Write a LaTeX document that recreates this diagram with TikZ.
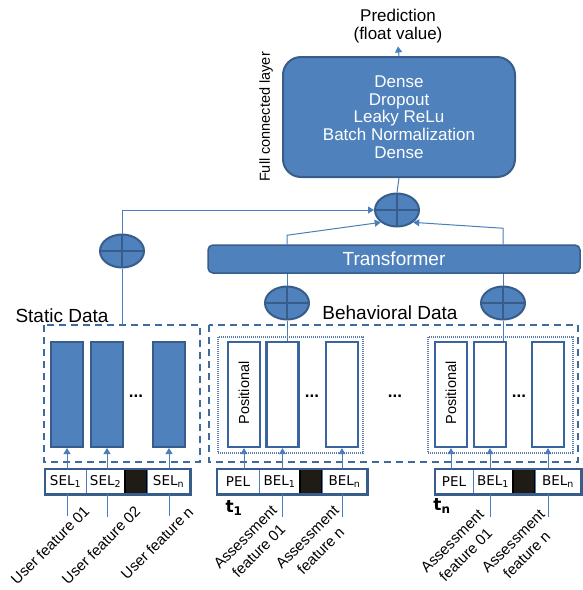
\documentclass[tikz,border=0pt]{standalone}
\usepackage{fontspec}
\setmainfont{Liberation Sans}
\newfontfamily\cellfont{DejaVu Sans}
\usetikzlibrary{arrows.meta,shapes.geometric}

\begin{document}
\begin{tikzpicture}[x=1pt,y=-1pt,
  % stili
  flowLine/.style={draw=lineBlue, line width=1pt},
  flowArrow/.style={flowLine, -{Triangle[length=6pt,width=7pt]}},
  plusNode/.style={ellipse, draw=barBorder, fill=boxBlue, line width=2pt,
    minimum width=44pt, minimum height=33pt, inner sep=0pt,
    path picture={\draw[barBorder, line width=2pt]
      (path picture bounding box.north) -- (path picture bounding box.south)
      (path picture bounding box.west) -- (path picture bounding box.east);}},
  blueBar/.style={rectangle, draw=barBorder, fill=boxBlue, line width=2pt,
    minimum width=32pt, minimum height=105pt, inner sep=0pt},
  whiteBar/.style={blueBar, fill=white, draw=barEdge, line width=2.4pt},
  cellBox/.style={rectangle, draw=lineBlue, line width=0.8pt, inner sep=0pt,
    minimum height=25pt, font=\cellfont\fontsize{13.5}{14}\selectfont},
  blackCell/.style={cellBox, fill=blackFill, draw=black, line width=1.5pt},
  tableEdge/.style={draw=barBorder, line width=2.2pt},
  dashBox/.style={draw=dashBlue, line width=1.6pt, dash pattern=on 7pt off 5pt},
  dotBox/.style={draw=dotBlue, line width=1.2pt, dash pattern=on 1pt off 1pt},
  featLabel/.style={rotate=45, align=center, font=\fontsize{15}{19}\selectfont},
  dotsText/.style={font=\bfseries\fontsize{17}{17}\selectfont},
  timeLabel/.style={font=\cellfont\bfseries\fontsize{17}{17}\selectfont}]

% Colori
\definecolor{boxBlue}{HTML}{4F81BD}
\definecolor{barBorder}{HTML}{385D8A}
\definecolor{barEdge}{HTML}{3A64A0}
\definecolor{lineBlue}{HTML}{4A7EBB}
\definecolor{dashBlue}{HTML}{3F6A9E}
\definecolor{dotBlue}{HTML}{5A7AAA}
\definecolor{blackFill}{HTML}{201B14}

\useasboundingbox (0,0) rectangle (582,590);

% Livello completamente connesso
\node[rectangle, rounded corners=18pt, draw=barBorder, fill=boxBlue, line width=2pt,
  minimum width=232pt, minimum height=120pt, text=white, align=center,
  font=\fontsize{17}{17.7}\selectfont] (fc) at (399,117)
  {Dense\\Dropout\\Leaky ReLu\\Batch Normalization\\Dense};
\node[align=center, font=\fontsize{17}{18}\selectfont] (pred) at (398,26)
  {Prediction\\(float value)};
\node[rotate=90, font=\fontsize{14.5}{15}\selectfont] (fcl) at (266,117)
  {Full connected layer};
\draw[flowArrow] (fc.north) -- (pred.south);

% Somme
\node[plusNode] (topPlus) at (397,210) {};
\node[plusNode] (sPlus) at (122,251) {};
\node[plusNode] (bPlusL) at (287,303) {};
\node[plusNode] (bPlusR) at (503,303) {};

% Transformer
\node[rectangle, rounded corners=5pt, draw=barBorder, fill=boxBlue, line width=1.5pt,
  minimum width=372pt, minimum height=28pt, text=white,
  font=\fontsize{19}{19}\selectfont] (trans) at (394,259) {Transformer};

\draw[flowLine] (fc.south) -- (topPlus.north);
\draw[flowArrow] (sPlus.north) |- (topPlus.west);
\draw[flowArrow] (trans.north -| bPlusL) -- ++(0,-9) -- (topPlus.south west);
\draw[flowArrow] (trans.north -| bPlusR) -- ++(0,-16) -- (topPlus.south east);
\draw[flowLine] (bPlusL.north) -- (bPlusL |- trans.south);
\draw[flowLine] (bPlusR.north) -- (bPlusR |- trans.south);

% Riquadri dati
\node[font=\fontsize{19}{19}\selectfont] (sLabel) at (62,316) {Static Data};
\node[font=\fontsize{19}{19}\selectfont] (bLabel) at (390,313) {Behavioral Data};
\draw[dashBox] (44,325) rectangle (200,462);
\draw[dashBox] (209,325) rectangle (578,462);
\draw[dotBox] (218,337) rectangle (363,453);
\draw[dotBox] (428,337) rectangle (573,453);
\coordinate (sTop) at (122,325);
\draw[flowLine] (sTop) -- (sPlus.south);

% Colonne statiche
\node[blueBar] (s1) at (67,394.5) {};
\node[blueBar] (s2) at (107,394.5) {};
\node[blueBar] (sn) at (169,394.5) {};
\node[dotsText] (sDots) at (136,396) {...};

% Colonne comportamentali (t1)
\node[whiteBar] (pos1) at (244,394.5) {};
\node[whiteBar] (bela) at (282.5,394.5) {};
\node[whiteBar] (belna) at (342,394.5) {};
\node[rotate=90, font=\fontsize{14.5}{15}\selectfont] (posTxt1) at (244,393) {Positional};
\node[dotsText] (bDots1) at (312,396) {...};
\node[dotsText] (midDots) at (395,396) {...};

% Colonne comportamentali (tn)
\node[whiteBar] (pos2) at (451,394.5) {};
\node[whiteBar] (belb) at (490,394.5) {};
\node[whiteBar] (belnb) at (548,394.5) {};
\node[rotate=90, font=\fontsize{14.5}{15}\selectfont] (posTxt2) at (451,393) {Positional};
\node[dotsText] (bDots2) at (519,396) {...};

\draw[flowLine] (bPlusL.south) -- (bPlusL.south |- bela.north);
\draw[flowLine] (bPlusR.south) -- (bPlusR.south |- belb.north);

% Tabelle di ingresso
\node[cellBox, minimum width=41pt] (sel1) at (65.5,481.5) {SEL\textsubscript{1}};
\node[cellBox, minimum width=39pt] (sel2) at (105.5,481.5) {SEL\textsubscript{2}};
\node[blackCell, minimum width=22pt] (selk) at (136,481.5) {};
\node[cellBox, minimum width=43pt] (seln) at (168.5,481.5) {SEL\textsubscript{n}};
\draw[tableEdge] (sel1.north west) rectangle (seln.south east);

\node[cellBox, minimum width=42pt] (pel1) at (238,481.5) {PEL};
\node[cellBox, minimum width=41pt] (bel1) at (279.5,481.5) {BEL\textsubscript{1}};
\node[blackCell, minimum width=22pt] (belk1) at (311,481.5) {};
\node[cellBox, minimum width=45pt] (beln1) at (344.5,481.5) {BEL\textsubscript{n}};
\draw[tableEdge] (pel1.north west) rectangle (beln1.south east);

\node[cellBox, minimum width=38pt] (pel2) at (454,481.5) {PEL};
\node[cellBox, minimum width=40pt] (bel2) at (493,481.5) {BEL\textsubscript{1}};
\node[blackCell, minimum width=22pt] (belk2) at (524,481.5) {};
\node[cellBox, minimum width=46pt] (beln2) at (558,481.5) {BEL\textsubscript{n}};
\draw[tableEdge] (pel2.north west) rectangle (beln2.south east);

% Frecce verso le colonne
\draw[flowArrow] (sel1.north -| s1) -- (s1.south);
\draw[flowArrow] (sel2.north -| s2) -- (s2.south);
\draw[flowArrow] (seln.north -| sn) -- (sn.south);
\draw[flowArrow] (pel1.north -| pos1) -- (pos1.south);
\draw[flowArrow] (bel1.north -| bela) -- (bela.south);
\draw[flowArrow] (beln1.north -| belna) -- (belna.south);
\draw[flowArrow] (pel2.north -| pos2) -- (pos2.south);
\draw[flowArrow] (bel2.north -| belb) -- (belb.south);
\draw[flowArrow] (beln2.north -| belnb) -- (belnb.south);

% Linee delle feature
\coordinate (uf1) at (67,516);
\coordinate (uf2) at (107,517);
\coordinate (ufn) at (169,516);
\coordinate (af1a) at (282.5,517);
\coordinate (afna) at (342,517);
\coordinate (af1b) at (490,517);
\coordinate (afnb) at (548,517);
\draw[flowLine] (sel1.south -| uf1) -- (uf1);
\draw[flowLine] (sel2.south -| uf2) -- (uf2);
\draw[flowLine] (seln.south -| ufn) -- (ufn);
\draw[flowLine] (bel1.south -| af1a) -- (af1a);
\draw[flowLine] (beln1.south -| afna) -- (afna);
\draw[flowLine] (bel2.south -| af1b) -- (af1b);
\draw[flowLine] (beln2.south -| afnb) -- (afnb);

% Etichette
\node[timeLabel] (t1) at (234,508) {t\textsubscript{1}};
\node[timeLabel] (tn) at (442,506) {t\textsubscript{n}};
\node[featLabel] (lab1) at (50,545) {User feature 01};
\node[featLabel] (lab2) at (101,545) {User feature 02};
\node[featLabel] (labn) at (157,543) {User feature n};
\node[featLabel] (labA1) at (252,544) {Assessment\\feature 01};
\node[featLabel] (labAn) at (314,544) {Assessment\\feature n};
\node[featLabel] (labB1) at (459,548) {Assessment\\feature 01};
\node[featLabel] (labBn) at (520,548) {Assessment\\feature n};

\end{tikzpicture}
\end{document}
